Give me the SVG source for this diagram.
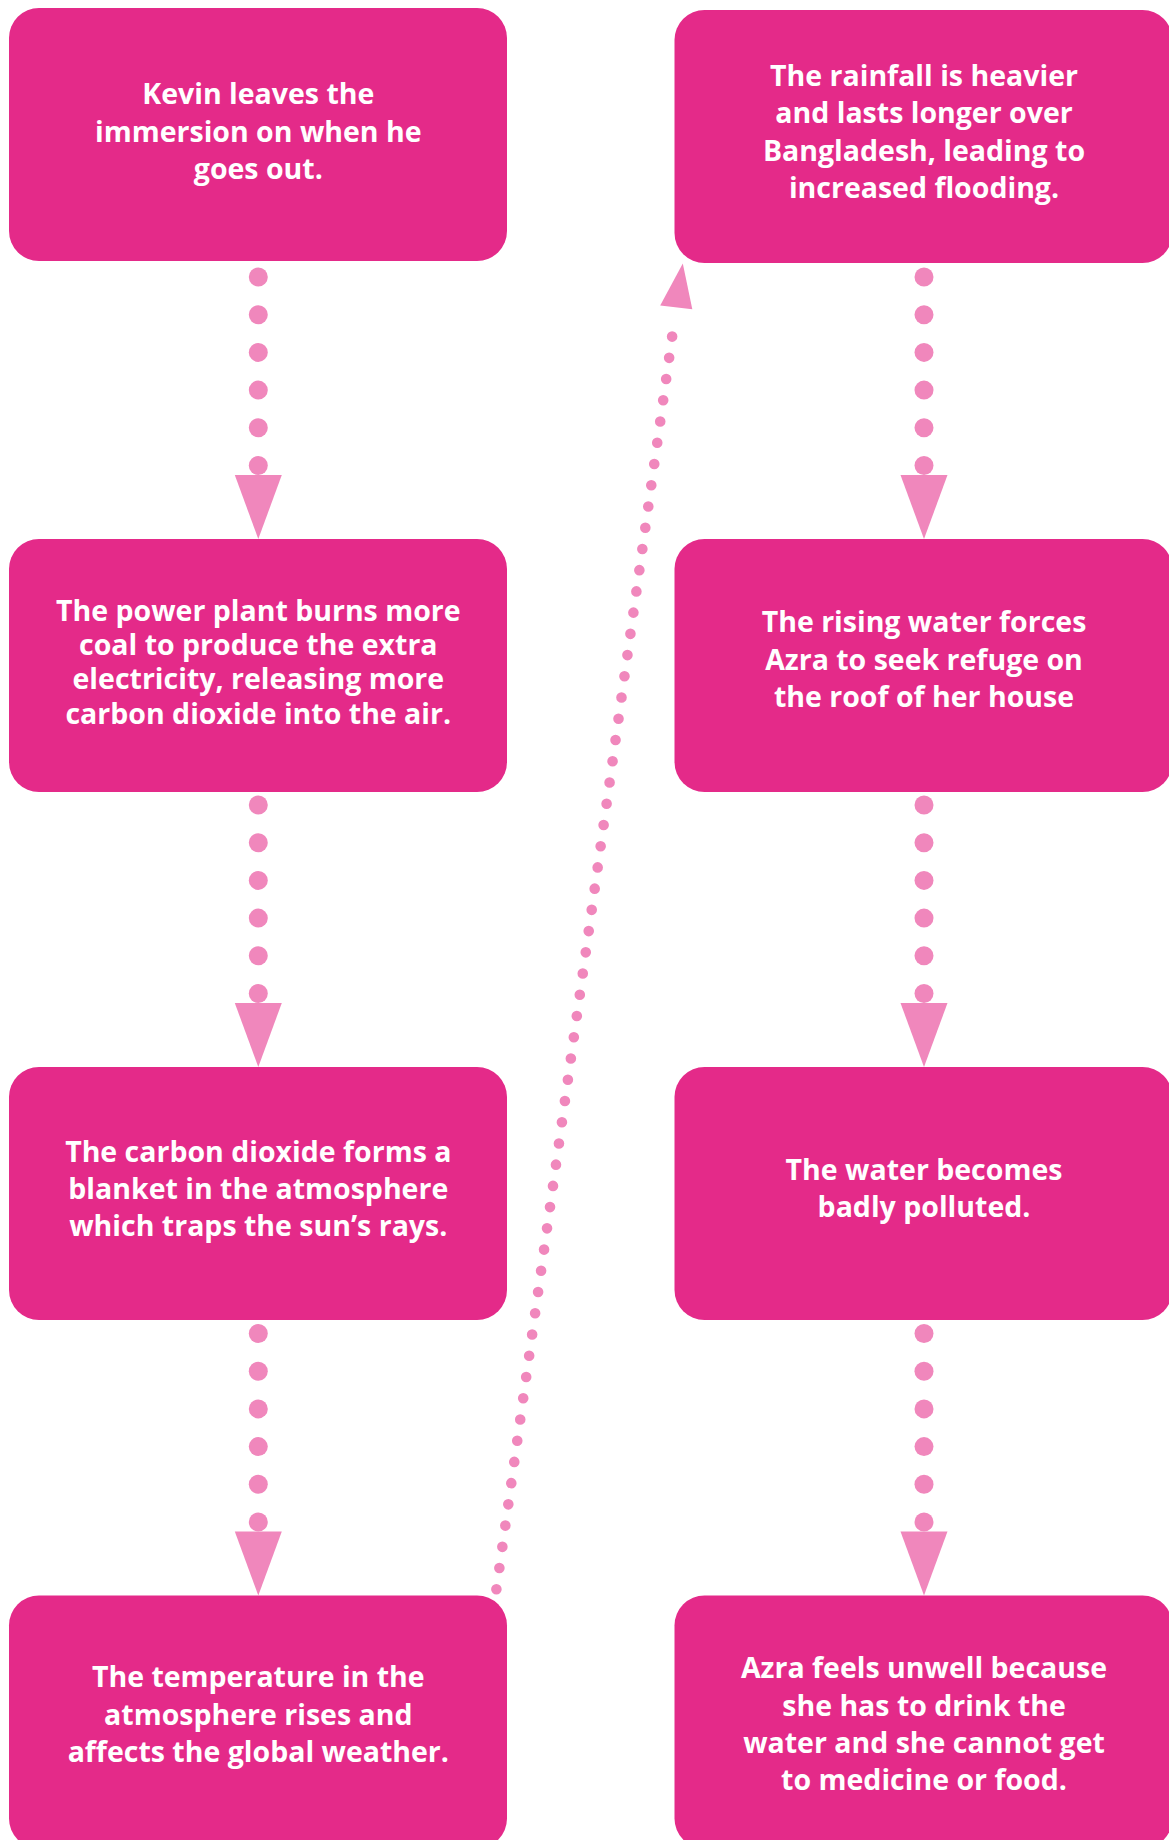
<svg xmlns="http://www.w3.org/2000/svg" width="1169" height="1840" viewBox="0 0 1169 1840">
<defs>
<style>
.box{fill:#E42A89;}
.t{fill:#ffffff;font-family:"Open Sans",Lato,"Liberation Sans",sans-serif;font-weight:700;font-size:28.5px;text-anchor:middle;}
.dot{fill:#F087BC;}
.head{fill:#F087BC;}
.diag{stroke:#F087BC;stroke-width:10.6;stroke-linecap:round;stroke-dasharray:0 21.44;fill:none;}
</style>
</defs>
<rect width="1169" height="1840" fill="#ffffff"/>
<g id="connectors">
<g id="c1">
<circle class="dot" cx="258.3" cy="277" r="9.5"/><circle class="dot" cx="258.3" cy="314.7" r="9.5"/><circle class="dot" cx="258.3" cy="352.4" r="9.5"/><circle class="dot" cx="258.3" cy="390.1" r="9.5"/><circle class="dot" cx="258.3" cy="427.8" r="9.5"/><circle class="dot" cx="258.3" cy="465.5" r="9.5"/>
<polygon class="head" points="234.8,475 281.8,475 258.3,539"/>
</g>
<g id="c2">
<circle class="dot" cx="258.3" cy="805" r="9.5"/><circle class="dot" cx="258.3" cy="842.7" r="9.5"/><circle class="dot" cx="258.3" cy="880.4" r="9.5"/><circle class="dot" cx="258.3" cy="918.1" r="9.5"/><circle class="dot" cx="258.3" cy="955.8" r="9.5"/><circle class="dot" cx="258.3" cy="993.5" r="9.5"/>
<polygon class="head" points="234.8,1003 281.8,1003 258.3,1067"/>
</g>
<g id="c3">
<circle class="dot" cx="258.3" cy="1333.5" r="9.5"/><circle class="dot" cx="258.3" cy="1371.2" r="9.5"/><circle class="dot" cx="258.3" cy="1408.9" r="9.5"/><circle class="dot" cx="258.3" cy="1446.6" r="9.5"/><circle class="dot" cx="258.3" cy="1484.3" r="9.5"/><circle class="dot" cx="258.3" cy="1522" r="9.5"/>
<polygon class="head" points="234.8,1531.5 281.8,1531.5 258.3,1595.5"/>
</g>
<g id="c4">
<line class="diag" x1="496.4" y1="1589.3" x2="675.1" y2="315.4"/>
<polygon class="head" points="660.2,305.4 692.3,309.3 682.8,263.6"/>
</g>
<g id="c5">
<circle class="dot" cx="924" cy="277" r="9.5"/><circle class="dot" cx="924" cy="314.7" r="9.5"/><circle class="dot" cx="924" cy="352.4" r="9.5"/><circle class="dot" cx="924" cy="390.1" r="9.5"/><circle class="dot" cx="924" cy="427.8" r="9.5"/><circle class="dot" cx="924" cy="465.5" r="9.5"/>
<polygon class="head" points="900.5,475 947.5,475 924,539"/>
</g>
<g id="c6">
<circle class="dot" cx="924" cy="805" r="9.5"/><circle class="dot" cx="924" cy="842.7" r="9.5"/><circle class="dot" cx="924" cy="880.4" r="9.5"/><circle class="dot" cx="924" cy="918.1" r="9.5"/><circle class="dot" cx="924" cy="955.8" r="9.5"/><circle class="dot" cx="924" cy="993.5" r="9.5"/>
<polygon class="head" points="900.5,1003 947.5,1003 924,1067"/>
</g>
<g id="c7">
<circle class="dot" cx="924" cy="1333.5" r="9.5"/><circle class="dot" cx="924" cy="1371.2" r="9.5"/><circle class="dot" cx="924" cy="1408.9" r="9.5"/><circle class="dot" cx="924" cy="1446.6" r="9.5"/><circle class="dot" cx="924" cy="1484.3" r="9.5"/><circle class="dot" cx="924" cy="1522" r="9.5"/>
<polygon class="head" points="900.5,1531.5 947.5,1531.5 924,1595.5"/>
</g>
</g>
<g id="n1">
<rect class="box" x="9" y="8" width="498" height="253" rx="30"/>
<text class="t"><tspan x="258.3" y="104">Kevin leaves the</tspan><tspan x="258.3" y="141.5">immersion on when he</tspan><tspan x="258.3" y="179">goes out.</tspan></text>
</g>
<g id="n2">
<rect class="box" x="9" y="539" width="498" height="253" rx="30"/>
<text class="t"><tspan x="258.3" y="620.7">The power plant burns more</tspan><tspan x="258.3" y="655">coal to produce the extra</tspan><tspan x="258.3" y="689.3">electricity, releasing more</tspan><tspan x="258.3" y="724">carbon dioxide into the air.</tspan></text>
</g>
<g id="n3">
<rect class="box" x="9" y="1067" width="498" height="253" rx="30"/>
<text class="t"><tspan x="258.3" y="1161.7">The carbon dioxide forms a</tspan><tspan x="258.3" y="1198.6">blanket in the atmosphere</tspan><tspan x="258.3" y="1236">which traps the sun’s rays.</tspan></text>
</g>
<g id="n4">
<rect class="box" x="9" y="1595.5" width="498" height="253" rx="30"/>
<text class="t"><tspan x="258.3" y="1687.4">The temperature in the</tspan><tspan x="258.3" y="1725">atmosphere rises and</tspan><tspan x="258.3" y="1761.6">affects the global weather.</tspan></text>
</g>
<g id="n5">
<rect class="box" x="674.5" y="10" width="498" height="253" rx="30"/>
<text class="t"><tspan x="924" y="85.7">The rainfall is heavier</tspan><tspan x="924" y="123">and lasts longer over</tspan><tspan x="924" y="160.7">Bangladesh, leading to</tspan><tspan x="924" y="198">increased flooding.</tspan></text>
</g>
<g id="n6">
<rect class="box" x="674.5" y="539" width="498" height="253" rx="30"/>
<text class="t"><tspan x="924" y="632.3">The rising water forces</tspan><tspan x="924" y="669.5">Azra to seek refuge on</tspan><tspan x="924" y="706.7">the roof of her house</tspan></text>
</g>
<g id="n7">
<rect class="box" x="674.5" y="1067" width="498" height="253" rx="30"/>
<text class="t"><tspan x="924" y="1180">The water becomes</tspan><tspan x="924" y="1216.7">badly polluted.</tspan></text>
</g>
<g id="n8">
<rect class="box" x="674.5" y="1595.5" width="498" height="253" rx="30"/>
<text class="t"><tspan x="924" y="1678.3">Azra feels unwell because</tspan><tspan x="924" y="1716">she has to drink the</tspan><tspan x="924" y="1753.3">water and she cannot get</tspan><tspan x="924" y="1790">to medicine or food.</tspan></text>
</g>
</svg>
